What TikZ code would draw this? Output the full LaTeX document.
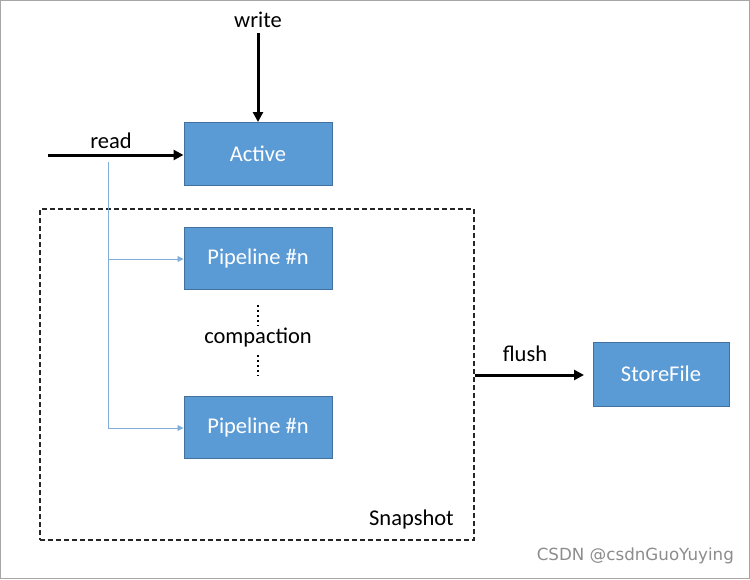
\documentclass[tikz,border=0pt]{standalone}
\usepackage{fontspec}
\setmainfont{Carlito}
\newfontfamily\wmfont{DejaVu Sans}
\usetikzlibrary{arrows.meta}
\definecolor{boxfill}{HTML}{5B9BD5}
\definecolor{boxline}{HTML}{41719C}
\definecolor{readline}{HTML}{7FAEDC}
\begin{document}
\begin{tikzpicture}[x=1pt,y=-1pt,
  bluebox/.style={draw=boxline,fill=boxfill,line width=1pt,minimum width=148pt,minimum height=63pt,inner sep=0pt,text=white,font=\fontsize{22.5}{27}\selectfont},
  lbl/.style={font=\fontsize{22.5}{27}\selectfont,inner sep=0pt},
  bigarrow/.style={line width=3pt,-{Triangle[length=10pt,width=10pt]}},
  thinarrow/.style={draw=readline,line width=0.8pt,-{Triangle[length=6pt,width=6pt]}}]
\useasboundingbox (0,0) rectangle (750,579);
\draw[gray!70,line width=1pt] (0.5,0.5) rectangle (749.5,578.5);
% boxes
\node[bluebox] (act) at (258,154) {Active};
\node[bluebox,minimum height=62pt] (p1) at (258,258) {Pipeline \#n};
\node[bluebox,minimum height=62pt] (p2) at (258,427) {Pipeline \#n};
\node[bluebox,minimum width=136pt,minimum height=64pt] (sf) at (661,374) {StoreFile};
% snapshot
\node[draw=black!85,dash pattern=on 5pt off 3pt,line width=1.4pt,minimum width=434pt,minimum height=331pt,inner sep=0pt] (snap) at (257,374.5) {};
\node[lbl,anchor=east] (snaplbl) at (454,519) {Snapshot};
% write
\node[lbl] (write) at (258,20) {write};
\coordinate (ws) at (258,33);
\draw[bigarrow] (ws) -- (act.north);
% read
\node[lbl] (read) at (111,141) {read};
\coordinate (rs) at (48,155);
\draw[bigarrow] (rs) -- (act.west |- rs);
\coordinate (rv) at (108,162);
\draw[readline,line width=0.8pt] (rv) -- (108,428);
\draw[thinarrow] (108,259) -- (p1.west |- 0,259);
\draw[thinarrow] (108,428) -- (p2.west |- 0,428);
% compaction
\node[lbl] (comp) at (258,338) {compaction};
\draw[line width=2pt,dash pattern=on 2pt off 3pt] (258,305) -- (258,326);
\draw[line width=2pt,dash pattern=on 2pt off 3pt] (258,355) -- (258,376);
% flush
\node[lbl] (flush) at (525,354) {flush};
\coordinate (fe) at (584,375);
\draw[bigarrow] (snap.east |- fe) -- (fe);
% watermark
\node[font=\wmfont\fontsize{16.7}{20}\selectfont,text=black!45,anchor=east,inner sep=0pt] (wm) at (734,556) {CSDN @csdnGuoYuying};
\end{tikzpicture}
\end{document}
